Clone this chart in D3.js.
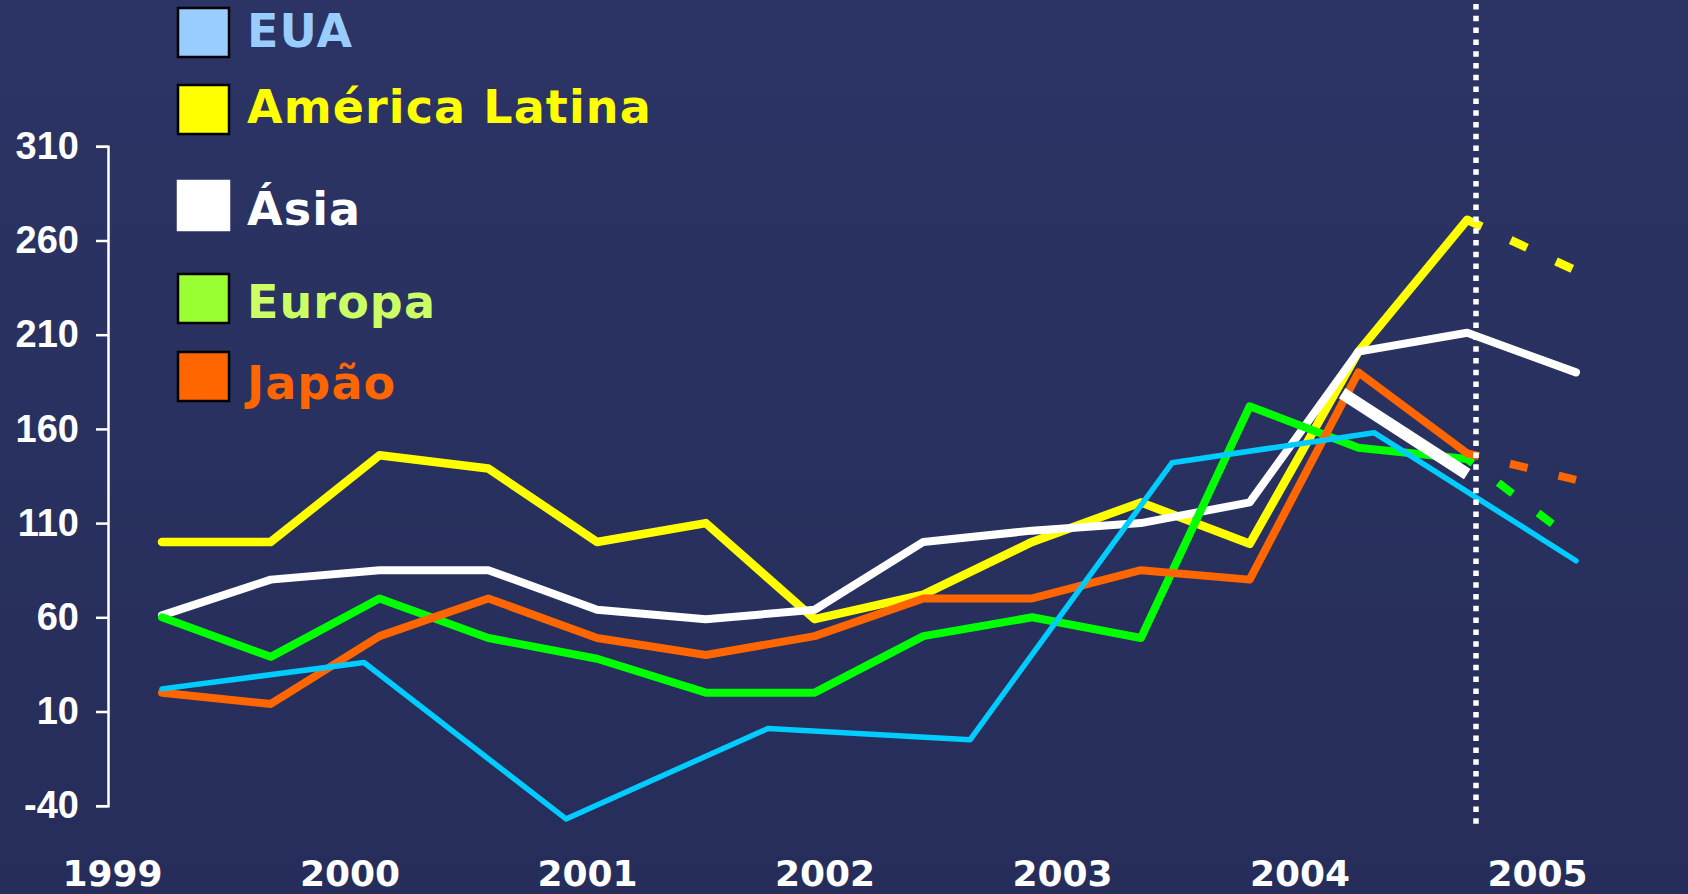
<!DOCTYPE html>
<html>
<head>
<meta charset="utf-8">
<script src="https://cdn.jsdelivr.net/npm/d3@7"></script>
<style>
  html, body { margin: 0; padding: 0; background: #29315f; overflow: hidden; }
  svg { display: block; }
</style>
</head>
<body>
<svg id="chart"></svg>
<script>
// semiannual periods, 1999 .. 2005
const years = ["1999", "2000", "2001", "2002", "2003", "2004", "2005"];
const yTicks = [310, 260, 210, 160, 110, 60, 10, -40];

const seriesNames = ["EUA", "América Latina", "Ásia", "Europa", "Japão"];
const eua = [22, 36, -47, 1, -5, 142, 158, 90];
const americaLatina = [100, 100, 146, 139, 100, 110, 59, 72, 100, 121, 99, 201, 271, 244];
const asia = [61, 80, 85, 85, 64, 59, 64, 100, 106, 110, 121, 201, 211, 190];
const europa = [60, 39, 70, 49, 38, 20, 20, 50, 60, 49, 172, 150, 144, 100];
const japao = [20, 14, 50, 70, 49, 40, 50, 70, 70, 85, 80, 190, 147, 133];
// second Ásia estimate drawn as a short thick segment
const asiaAltPeriods = [10.85, 12];
const asiaAlt = [179, 136];

const width = 1688, height = 894;
const svg = d3.select("#chart").attr("width", width).attr("height", height);

const defs = svg.append("defs");
const bg = defs.append("linearGradient").attr("id", "bg").attr("x1", 0).attr("y1", 0).attr("x2", 0).attr("y2", 1);
bg.append("stop").attr("offset", "0%").attr("stop-color", "#2b3464");
bg.append("stop").attr("offset", "100%").attr("stop-color", "#262d5a");
svg.append("rect").attr("width", width).attr("height", height).attr("fill", "url(#bg)");

const x = d3.scaleLinear().domain([0, 13]).range([162, 1576]);
const y = d3.scaleLinear().domain([-40, 310]).range([805.7, 146.3]);
const yearX = d3.scalePoint().domain(years).range([112, 1537]);

// y axis
const yAxis = svg.append("g")
  .attr("transform", "translate(108,0)")
  .call(d3.axisLeft(y).tickValues(yTicks).tickSize(12).tickPadding(17)
    .tickFormat(d => String(d)));
yAxis.selectAll("path, line").attr("stroke", "#fff").attr("stroke-width", 2.5);
yAxis.selectAll("text")
  .attr("fill", "#fff")
  .style("font", "bold 38px 'Liberation Sans', Arial, sans-serif");

// year labels
const xAxis = svg.append("g")
  .attr("transform", "translate(0,850)")
  .call(d3.axisBottom(yearX).tickSize(0).tickPadding(10));
xAxis.select(".domain").remove();
xAxis.selectAll("text")
  .attr("fill", "#fff")
  .style("font", "bold 36px 'DejaVu Sans', Verdana, sans-serif");

const line = d3.line().x(d => x(d[0])).y(d => y(d[1]));
const pts = (vals, per) => vals.map((v, i) => [per ? per[i] : i, v]);

const styles = {
  "EUA": { color: "#00ccff", width: 5.5 },
  "América Latina": { color: "#ffff00", width: 8.5, offset: 2 },
  "Ásia": { color: "#ffffff", width: 8 },
  "Europa": { color: "#00ff00", width: 8, offset: 11 },
  "Japão": { color: "#ff6600", width: 8, offset: 6 }
};

const euaPeriods = eua.map((d, k) => k * 13 / 7);

const plot = svg.append("g").attr("fill", "none")
  .attr("stroke-linejoin", "round");

function solid(data, name, w) {
  plot.append("path").datum(data)
    .attr("d", line)
    .attr("stroke", styles[name].color)
    .attr("stroke-width", w || styles[name].width)
    .attr("stroke-linecap", "round");
}
function dashed(data, name) {
  plot.append("path").datum(data)
    .attr("d", line)
    .attr("stroke", styles[name].color)
    .attr("stroke-width", styles[name].width)
    .attr("stroke-dasharray", "18 32")
    .attr("stroke-dashoffset", styles[name].offset);
}

const alPts = pts(americaLatina);
const euPts = pts(europa);
const jpPts = pts(japao);

solid(alPts.slice(0, 13), "América Latina");
dashed(alPts.slice(12), "América Latina");
solid(pts(asia), "Ásia");
solid(euPts.slice(0, 13), "Europa");
dashed(euPts.slice(12), "Europa");
solid(jpPts.slice(0, 13), "Japão");
dashed(jpPts.slice(12), "Japão");
plot.append("path").datum(pts(asiaAlt, asiaAltPeriods))
  .attr("d", line)
  .attr("stroke", "#fff")
  .attr("stroke-width", 12);
solid(pts(eua, euaPeriods), "EUA");

// forecast divider
svg.append("line")
  .attr("x1", 1476).attr("x2", 1476)
  .attr("y1", 4).attr("y2", 826)
  .attr("stroke", "#fff")
  .attr("stroke-width", 5.5)
  .attr("stroke-dasharray", "5.5 6.3");

// legend
const legendTop = [8, 85, 181, 274, 352];
const legendBase = [47, 123, 225, 318, 399];
const boxColor = ["#99ccff", "#ffff00", "#ffffff", "#99ff33", "#ff6600"];
const textColor = ["#99ccff", "#ffff00", "#ffffff", "#ccff66", "#ff6600"];

const legend = svg.append("g");
seriesNames.forEach((name, i) => {
  legend.append("rect")
    .attr("x", 178).attr("y", legendTop[i])
    .attr("width", 51).attr("height", 49)
    .attr("fill", boxColor[i])
    .attr("stroke", name === "Ásia" ? "#fff" : "#000")
    .attr("stroke-width", 2.5);
  legend.append("text")
    .attr("x", 247).attr("y", legendBase[i])
    .attr("fill", textColor[i])
    .style("font", "bold 46px 'DejaVu Sans', Verdana, sans-serif")
    .style("letter-spacing", "1.1px")
    .text(name);
});
</script>
</body>
</html>
